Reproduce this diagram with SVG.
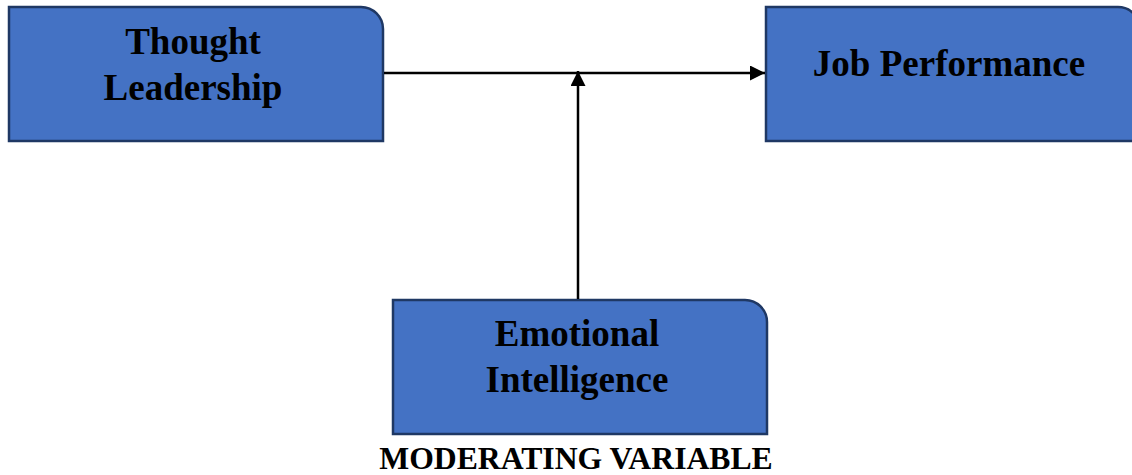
<svg xmlns="http://www.w3.org/2000/svg" width="1132" height="475" viewBox="0 0 1132 475">
<style>
.box{fill:#4472C4;stroke:#1F3864;stroke-width:2.5}
.lbl{font-family:"Liberation Serif","Times New Roman",serif;font-weight:bold;font-size:37px;fill:#000;text-anchor:middle}
.cap{font-family:"Liberation Serif","Times New Roman",serif;font-weight:bold;font-size:31.7px;fill:#000;text-anchor:middle}
.conn{stroke:#000;stroke-width:2.5;fill:none}
</style>
<defs>
<marker id="arr" viewBox="0 0 10 10" refX="10" refY="5" markerWidth="6" markerHeight="6" markerUnits="strokeWidth" orient="auto">
<path d="M0,0 L10,5 L0,10 Z" fill="#000"/>
</marker>
</defs>
<g id="thought-leadership">
<path class="box" d="M9,7 H361 A22,22 0 0 1 383,29 V141 H9 Z"/>
<text class="lbl" x="193" y="54">Thought</text>
<text class="lbl" x="193" y="100">Leadership</text>
</g>
<g id="job-performance">
<path class="box" d="M766,7 H1118 A22,22 0 0 1 1140,29 V141 H766 Z"/>
<text class="lbl" x="949" y="76">Job Performance</text>
</g>
<g id="emotional-intelligence">
<path class="box" d="M393,300 H745 A22,22 0 0 1 767,322 V434 H393 Z"/>
<text class="lbl" x="577" y="346">Emotional</text>
<text class="lbl" x="577" y="392">Intelligence</text>
</g>
<g id="caption">
<text class="cap" x="576" y="469">MODERATING VARIABLE</text>
</g>
<g id="connectors">
<line class="conn" x1="384" y1="73" x2="765" y2="73" marker-end="url(#arr)"/>
<line class="conn" x1="578" y1="299" x2="578" y2="71" marker-end="url(#arr)"/>
</g>
</svg>
